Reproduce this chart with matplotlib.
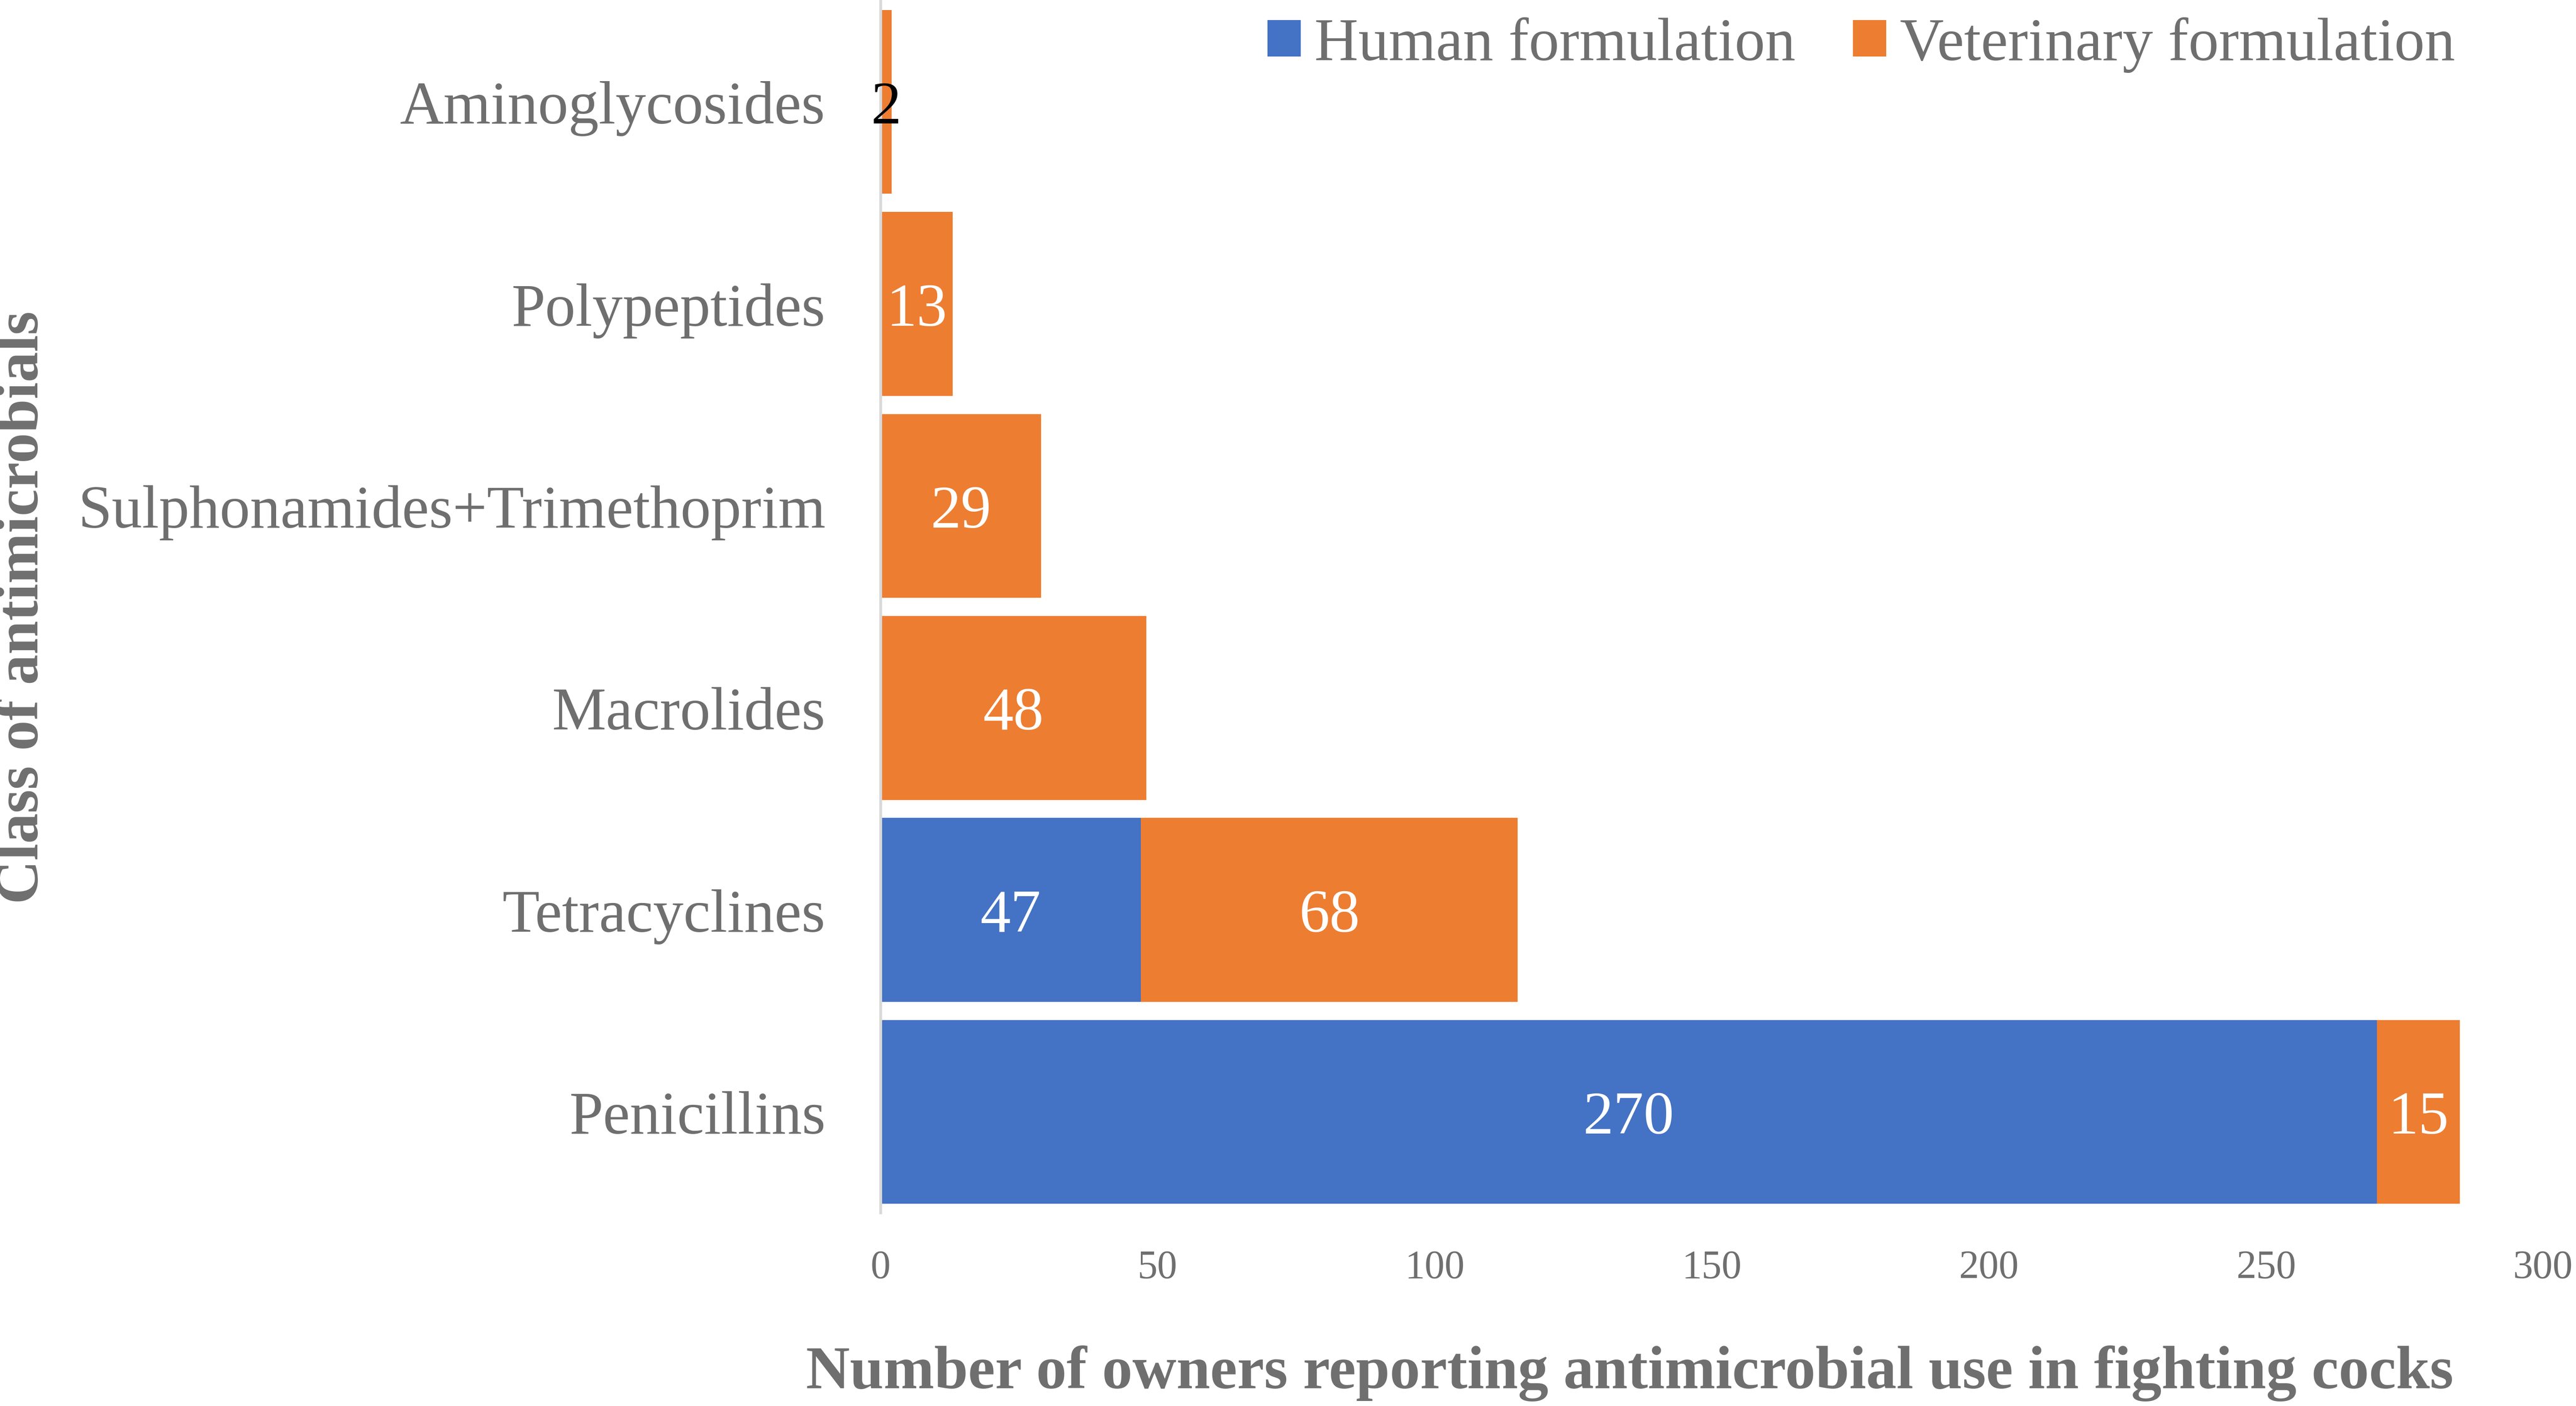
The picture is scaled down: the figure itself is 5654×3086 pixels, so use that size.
import matplotlib.pyplot as plt
import numpy as np

categories = ["Penicillins", "Tetracyclines", "Macrolides",
              "Sulphonamides+Trimethoprim", "Polypeptides", "Aminoglycosides"]
human = [270, 47, 0, 0, 0, 0]
veterinary = [15, 68, 48, 29, 13, 2]
series_names = ["Human formulation", "Veterinary formulation"]
x_ticks = [0, 50, 100, 150, 200, 250, 300]

BLUE = "#4472C4"
ORANGE = "#ED7D31"
GRAY = "#6f6f6f"

plt.rcParams['font.family'] = ['Liberation Serif', 'DejaVu Serif']

fig = plt.figure(figsize=(5654 / 300, 3087 / 300), dpi=300)
ax = fig.add_axes([0.3418, 0.1373, 0.9872 - 0.3418, 0.999 - 0.1373])

y = np.arange(len(categories))
h = np.array(human)
v = np.array(veterinary)
ax.barh(y, h, height=0.91, color=BLUE, label=series_names[0])
ax.barh(y, v, height=0.91, left=h, color=ORANGE, label=series_names[1])

# data labels
for i in range(len(categories)):
    if h[i] > 0:
        ax.text(h[i] / 2, y[i], str(h[i]), ha='center', va='center_baseline',
                color='white', fontsize=32)
    if v[i] > 0:
        col = 'white' if v[i] > 5 else 'black'
        ax.text(h[i] + v[i] / 2, y[i], str(v[i]), ha='center', va='center_baseline',
                color=col, fontsize=32)

ax.set_xlim(0, 300)
ax.set_ylim(-0.5, len(categories) - 0.5)
ax.set_yticks(y)
ax.set_yticklabels(categories)
ax.set_xticks(x_ticks)
ax.tick_params(axis='y', length=0, pad=29, labelsize=32, labelcolor=GRAY)
ax.tick_params(axis='x', length=0, pad=19, labelsize=21, labelcolor=GRAY)
for s in ['top', 'right', 'bottom']:
    ax.spines[s].set_visible(False)
ax.spines['left'].set_color('#d9d9d9')
ax.spines['left'].set_linewidth(1.5)

fig.text(0.6327, 0.0234, "Number of owners reporting antimicrobial use in fighting cocks",
         ha='center', va='center', fontsize=32, fontweight='bold', color=GRAY)
fig.text(0.0089, 0.568, "Class of antimicrobials", rotation=90,
         ha='center', va='center', fontsize=32, fontweight='bold', color=GRAY)

leg = fig.legend(loc='center right', bbox_to_anchor=(0.953, 0.968), ncol=2,
                 frameon=False, fontsize=32, handlelength=0.55, handleheight=0.55,
                 handletextpad=0.22, columnspacing=0.95, borderaxespad=0, borderpad=0)
for t in leg.get_texts():
    t.set_color(GRAY)

fig.savefig("out.png", dpi=300)
